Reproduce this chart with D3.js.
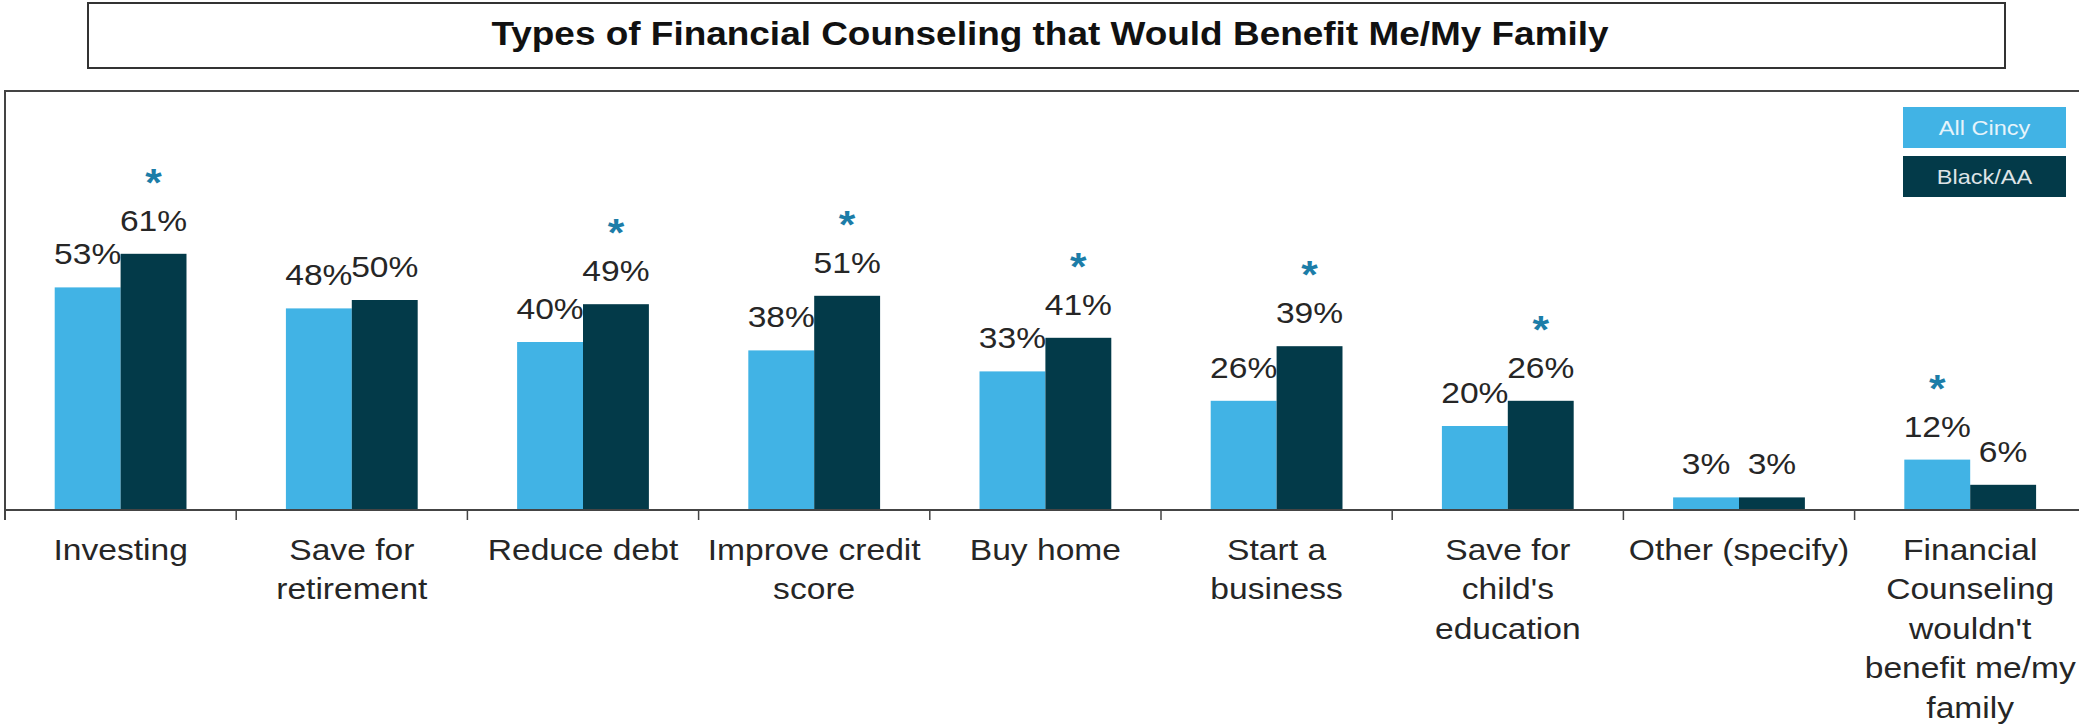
<!DOCTYPE html>
<html>
<head>
<meta charset="utf-8">
<script src="https://cdn.jsdelivr.net/npm/d3@7"></script>
<style>
  body { margin: 0; background: #fff; }
  text { font-family: "Liberation Sans", Arial, sans-serif; }
</style>
</head>
<body>
<div id="chart"></div>
<script>
var categories = ["Investing", "Save for|retirement", "Reduce debt", "Improve credit|score",
    "Buy home", "Start a|business", "Save for|child's|education", "Other (specify)",
    "Financial|Counseling|wouldn't|benefit me/my|family"];
var seriesNames = ["All Cincy", "Black/AA"];
var allCincy = [53, 48, 40, 38, 33, 26, 20, 3, 12];
var blackAA = [61, 50, 49, 51, 41, 39, 26, 3, 6];
// which bar carries the significance star (series index, or -1 for none)
var starOn = [1, -1, 1, 1, 1, 1, 1, -1, 0];

var width = 2079, height = 728;
var colors = ["#41b3e5", "#033a49"];
var stretch = 1.12;

var svg = d3.select("#chart")
    .append("svg")
    .attr("width", width)
    .attr("height", height);

// title box
svg.append("rect")
    .attr("x", 88).attr("y", 3)
    .attr("width", 1917).attr("height", 65)
    .attr("fill", "#fff")
    .attr("stroke", "#333")
    .attr("stroke-width", 2);

svg.append("text")
    .attr("transform", "translate(1050,45) scale(" + stretch + ",1)")
    .attr("text-anchor", "middle")
    .attr("font-size", 33)
    .attr("font-weight", "bold")
    .attr("fill", "#111")
    .text("Types of Financial Counseling that Would Benefit Me/My Family");

// chart frame (top and left edges)
svg.append("path")
    .attr("d", "M5,520V91H" + width)
    .attr("fill", "none")
    .attr("stroke", "#444")
    .attr("stroke-width", 2);

var x0 = d3.scaleBand()
    .domain(d3.range(categories.length))
    .range([5, 5 + 231.2 * categories.length])
    .paddingInner(0.43)
    .paddingOuter(0.215);

var x1 = d3.scaleBand()
    .domain([0, 1])
    .range([0, x0.bandwidth()]);

var y = d3.scaleLinear()
    .domain([0, 100])
    .range([510, 90]);

var rows = categories.map(function(c, i) {
    return { i: i, label: c, values: [allCincy[i], blackAA[i]], star: starOn[i] };
});

var group = svg.selectAll(".cat")
    .data(rows)
    .enter()
    .append("g")
    .attr("class", "cat")
    .attr("transform", function(d) { return "translate(" + x0(d.i) + ",0)"; });

var bars = group.selectAll(".bar")
    .data(function(d) {
        return d.values.map(function(v, s) { return { s: s, v: v, star: d.star === s }; });
    })
    .enter();

bars.append("rect")
    .attr("x", function(d) { return x1(d.s); })
    .attr("y", function(d) { return y(d.v); })
    .attr("width", x1.bandwidth())
    .attr("height", function(d) { return y(0) - y(d.v); })
    .attr("fill", function(d) { return colors[d.s]; });

bars.append("text")
    .attr("transform", function(d) {
        return "translate(" + (x1(d.s) + x1.bandwidth() / 2) + "," + (y(d.v) - 23) + ") scale(" + stretch + ",1)";
    })
    .attr("text-anchor", "middle")
    .attr("font-size", 30)
    .attr("fill", "#262626")
    .text(function(d) { return d.v + "%"; });

bars.filter(function(d) { return d.star; })
    .append("text")
    .attr("transform", function(d) {
        return "translate(" + (x1(d.s) + x1.bandwidth() / 2) + "," + (y(d.v) - 80 + 22) + ") scale(" + stretch + ",1)";
    })
    .attr("text-anchor", "middle")
    .attr("font-size", 38)
    .attr("font-weight", "bold")
    .attr("fill", "#1c7da8")
    .text("*");

// x axis
var xAxis = d3.scaleLinear()
    .domain([0, categories.length])
    .range([5, 5 + 231.2 * categories.length]);

svg.append("line")
    .attr("x1", 5).attr("x2", width)
    .attr("y1", y(0)).attr("y2", y(0))
    .attr("stroke", "#444")
    .attr("stroke-width", 2);

svg.selectAll(".tick")
    .data(d3.range(1, categories.length))
    .enter()
    .append("line")
    .attr("class", "tick")
    .attr("x1", function(d) { return xAxis(d); })
    .attr("x2", function(d) { return xAxis(d); })
    .attr("y1", y(0)).attr("y2", y(0) + 10)
    .attr("stroke", "#444")
    .attr("stroke-width", 1.5);

group.append("text")
    .attr("transform", function(d) {
        return "translate(" + x0.bandwidth() / 2 + ",560) scale(" + stretch + ",1)";
    })
    .attr("text-anchor", "middle")
    .attr("font-size", 30)
    .attr("fill", "#262626")
    .selectAll("tspan")
    .data(function(d) { return d.label.split("|"); })
    .enter()
    .append("tspan")
    .attr("x", 0)
    .attr("dy", function(d, i) { return i === 0 ? 0 : 39.5; })
    .text(function(d) { return d; });

// legend
var legend = svg.selectAll(".legend")
    .data(seriesNames)
    .enter()
    .append("g")
    .attr("class", "legend")
    .attr("transform", function(d, i) { return "translate(1903," + (107 + i * 49) + ")"; });

legend.append("rect")
    .attr("width", 163)
    .attr("height", 41)
    .attr("fill", function(d, i) { return colors[i]; });

legend.append("text")
    .attr("transform", "translate(81.5,28) scale(" + stretch + ",1)")
    .attr("text-anchor", "middle")
    .attr("font-size", 21)
    .attr("fill", function(d, i) { return i === 0 ? "#e6f4fb" : "#dde3e6"; })
    .text(function(d) { return d; });
</script>
</body>
</html>
